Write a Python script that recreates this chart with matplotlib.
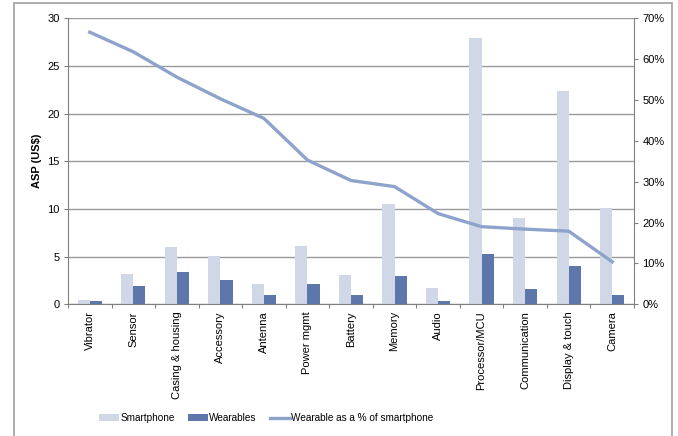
import matplotlib
matplotlib.use("Agg")
import matplotlib.pyplot as plt
import numpy as np
from matplotlib.patches import Rectangle
from matplotlib.ticker import PercentFormatter

plt.rcParams['font.family'] = ['Liberation Sans', 'DejaVu Sans']

categories = ["Vibrator", "Sensor", "Casing & housing", "Accessory", "Antenna",
              "Power mgmt", "Battery", "Memory", "Audio", "Processor/MCU",
              "Communication", "Display & touch", "Camera"]
smartphone = [0.45, 3.15, 6.0, 5.07, 2.13, 6.12, 3.07, 10.55, 1.74, 27.97, 9.0, 22.4, 10.1]
wearables = [0.31, 1.95, 3.35, 2.5, 0.97, 2.13, 0.94, 2.97, 0.35, 5.31, 1.64, 3.99, 1.0]
pct = [66.6, 61.8, 55.6, 50.3, 45.5, 35.3, 30.3, 28.8, 22.2, 19.0, 18.4, 17.9, 10.4]

c_smart = "#D0D8E7"
c_wear = "#5D77AB"
c_line = "#8EA3CC"
c_grid = "#9A9A9A"

fig = plt.figure(figsize=(6.78, 4.36), dpi=100)
fig.patches.append(Rectangle((14/678, -0.01), (672-14)/678, (436-3)/436 + 0.01,
                             transform=fig.transFigure, fill=False,
                             edgecolor="#A0A0A0", linewidth=1.2))
ax = fig.add_axes([68/678, 1-304.3/436, (634-68)/678, (304.3-18.3)/436])
x = np.arange(len(categories))
w = 0.28
ax.bar(x - w/2, smartphone, width=w, color=c_smart, label="Smartphone", zorder=2)
ax.bar(x + w/2, wearables, width=w, color=c_wear, label="Wearables", zorder=2)
ax.set_xlim(-0.5, len(categories) - 0.5)
ax.set_ylim(0, 30)
ax.set_yticks(range(0, 31, 5))
ax.yaxis.grid(True, color=c_grid, linewidth=1.0, zorder=0)
ax.set_axisbelow(True)
ax.set_xticks(np.arange(-0.5, len(categories), 1.0), minor=False)
ax.set_xticklabels([])
ax.set_xticks(x, minor=True)
ax.set_xticklabels(categories, minor=True, rotation=90, fontsize=8)
ax.tick_params(axis='x', which='minor', length=0, pad=5)
ax.tick_params(axis='x', which='major', length=3, color="#808080", direction='out')
ax.tick_params(axis='y', length=3, color="#808080", labelsize=8, pad=3)
ax.set_ylabel("ASP (US$)", fontsize=8, fontweight='bold', labelpad=4)
for s in ['top', 'right']:
    ax.spines[s].set_visible(False)
for s in ['left', 'bottom']:
    ax.spines[s].set_color("#808080")

ax2 = ax.twinx()
ax2.plot(x, pct, color=c_line, linewidth=2.4, label="Wearable as a % of smartphone", zorder=3)
ax2.set_ylim(0, 70)
ax2.set_yticks(range(0, 71, 10))
ax2.yaxis.set_major_formatter(PercentFormatter(decimals=0))
ax2.tick_params(axis='y', length=3, color="#808080", labelsize=8, pad=3)
for s in ['top', 'left', 'bottom']:
    ax2.spines[s].set_visible(False)
ax2.spines['right'].set_color("#808080")

h1, l1 = ax.get_legend_handles_labels()
h2, l2 = ax2.get_legend_handles_labels()
fig.legend(h1 + h2, l1 + l2, loc='center', bbox_to_anchor=(266/678, 1-418/436),
           ncol=3, frameon=False, prop={'size': 7.2},
           handlelength=2.0, handleheight=0.7,
           handletextpad=0.15, columnspacing=1.3)

fig.savefig("out.png", dpi=100)
